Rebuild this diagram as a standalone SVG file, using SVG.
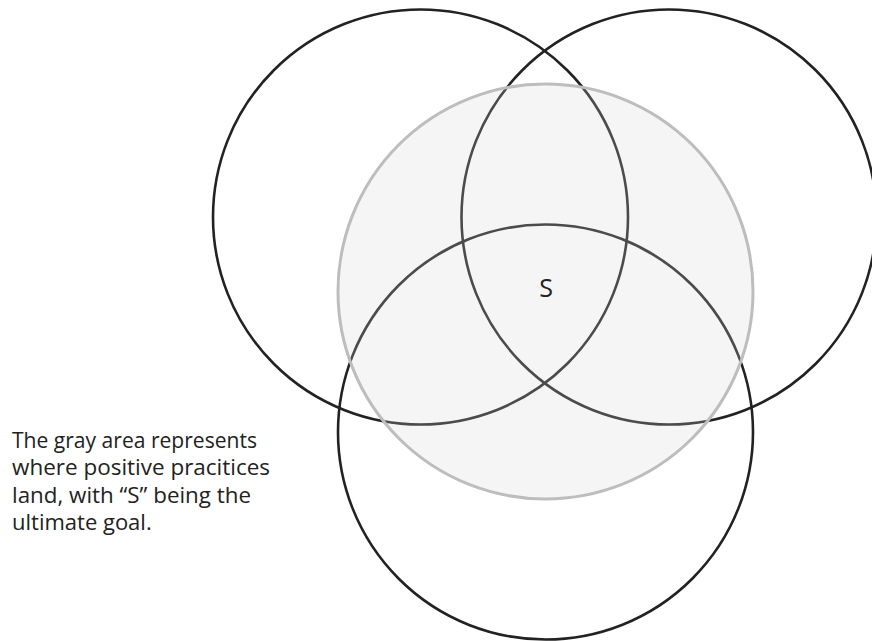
<svg xmlns="http://www.w3.org/2000/svg" width="872" height="641" viewBox="0 0 872 641">
<style>
.ring{fill:none;stroke:#222;stroke-width:2.6}
.txt{font-family:"Open Sans","Noto Sans","DejaVu Sans",sans-serif;font-size:22px;fill:#222}
.big{font-size:25px}
</style>
<rect width="872" height="641" fill="#fff"/>
<g id="circle-left"><circle class="ring" cx="420.5" cy="217" r="207.5"/></g>
<g id="circle-right"><circle class="ring" cx="669" cy="217" r="207.5"/></g>
<g id="circle-bottom"><circle class="ring" cx="545.5" cy="432" r="207.5"/></g>
<g id="gray-area">
<circle cx="545.5" cy="291.5" r="207.5" fill="#d4d4d4" fill-opacity="0.23" stroke="#bdbdbd" stroke-width="3"/>
<text class="txt big" x="546" y="297" text-anchor="middle">S</text>
</g>
<g id="connectors"></g>
<g id="caption">
<text class="txt" x="12" y="448" textLength="245" lengthAdjust="spacingAndGlyphs">The gray area represents</text>
<text class="txt" x="12" y="475.3" textLength="258" lengthAdjust="spacingAndGlyphs">where positive pracitices</text>
<text class="txt" x="12" y="502.6" textLength="239" lengthAdjust="spacingAndGlyphs">land, with “S” being the</text>
<text class="txt" x="12" y="530">ultimate goal.</text>
</g>
</svg>
